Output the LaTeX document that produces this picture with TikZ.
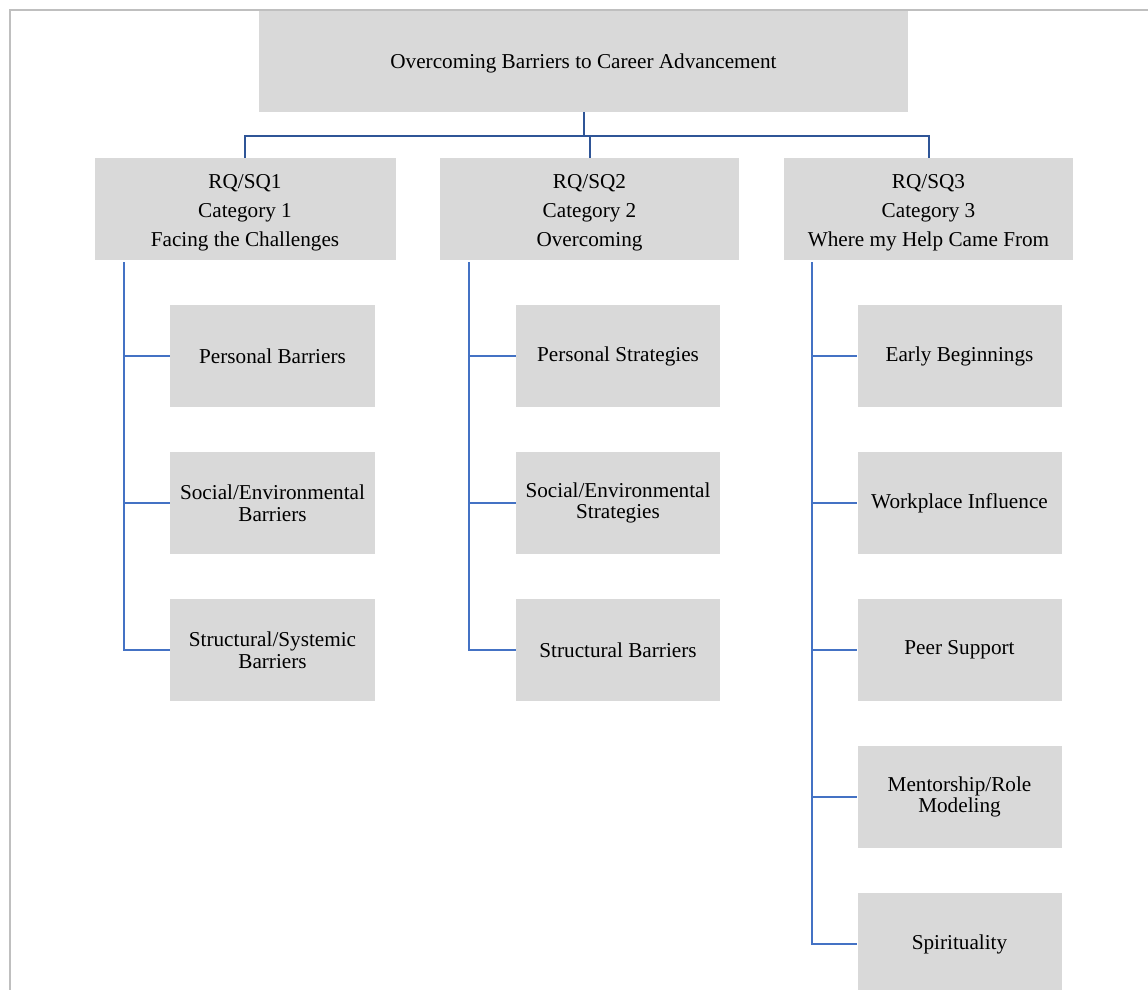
\documentclass[tikz,border=0pt]{standalone}
\usepackage{fontspec}
\setmainfont{Liberation Serif}
\definecolor{boxgray}{HTML}{D9D9D9}
\definecolor{framegray}{HTML}{BFBFBF}
\definecolor{linkblue}{HTML}{4472C4}
\definecolor{busblue}{HTML}{2F5597}
\newcommand{\firstline}[1][21pt]{\rule{0pt}{#1}}
\tikzset{
  box/.style={fill=boxgray, draw=none, inner sep=0pt, align=center,
    font=\fontsize{21.2}{21.5}\selectfont},
  catbox/.style={box, minimum width=#1, minimum height=102pt,
    font=\fontsize{21.2}{29}\selectfont},
  leaf/.style={box, minimum width=204pt, minimum height=102pt},
  bus/.style={draw=busblue, line width=2pt},
  link/.style={draw=linkblue, line width=1.9pt},
}
\begin{document}
\begin{tikzpicture}[x=1pt, y=1pt]
\useasboundingbox (0,0) rectangle (1148,-989);
\clip (0,0) rectangle (1148,-989);

% outer frame (continues past the right and bottom edges)
\draw[framegray, line width=2pt] (9.5,-1000) -- (9.5,-9.5) -- (1160,-9.5);

% root
\node[box, minimum width=649pt, minimum height=101pt] (top) at (583.5,-61.5)
  {\firstline[18.5pt]Overcoming Barriers to Career Advancement};

% categories
\node[catbox=301pt] (c1) at (245,-209) {\firstline RQ/SQ1\\Category 1\\Facing the Challenges};
\node[catbox=299pt] (c2) at (589.5,-209) {\firstline RQ/SQ2\\Category 2\\Overcoming};
\node[catbox=289pt] (c3) at (928.5,-209) {\firstline RQ/SQ3\\Category 3\\Where my Help Came From};

% category 1 themes
\node[leaf, minimum width=205pt] (a1) at (272.5,-356) {Personal Barriers};
\node[leaf, minimum width=205pt] (a2) at (272.5,-503) {Social/Environmental\\Barriers};
\node[leaf, minimum width=205pt] (a3) at (272.5,-650) {Structural/Systemic\\Barriers};

% category 2 themes
\node[leaf] (b1) at (618,-356) {Personal Strategies};
\node[leaf] (b2) at (618,-503) {Social/Environmental\\Strategies};
\node[leaf] (b3) at (618,-650) {Structural Barriers};

% category 3 themes
\node[leaf] (d1) at (959.5,-356) {Early Beginnings};
\node[leaf] (d2) at (959.5,-503) {Workplace Influence};
\node[leaf] (d3) at (959.5,-650) {Peer Support};
\node[leaf] (d4) at (959.5,-797) {Mentorship/Role\\Modeling};
\node[leaf] (d5) at (959.5,-944) {Spirituality};

% root to categories
\coordinate (busline) at (0,-135.5);
\draw[bus] (top.south) -- (top.south |- busline);
\draw[bus] (c1.north) |- (c3.north |- busline) -- (c3.north);
\draw[bus] (c2.north) -- (c2.north |- busline);

% category spines and branches
\coordinate (s1) at (124,-262);
\coordinate (s2) at (469,-262);
\coordinate (s3) at (812,-262);

\draw[link] (s1) |- (a3.west);
\draw[link] (s1 |- a1.west) -- (a1.west);
\draw[link] (s1 |- a2.west) -- (a2.west);

\draw[link] (s2) |- (b3.west);
\draw[link] (s2 |- b1.west) -- (b1.west);
\draw[link] (s2 |- b2.west) -- (b2.west);

\draw[link] (s3) |- (d5.west);
\draw[link] (s3 |- d1.west) -- (d1.west);
\draw[link] (s3 |- d2.west) -- (d2.west);
\draw[link] (s3 |- d3.west) -- (d3.west);
\draw[link] (s3 |- d4.west) -- (d4.west);
\end{tikzpicture}
\end{document}
